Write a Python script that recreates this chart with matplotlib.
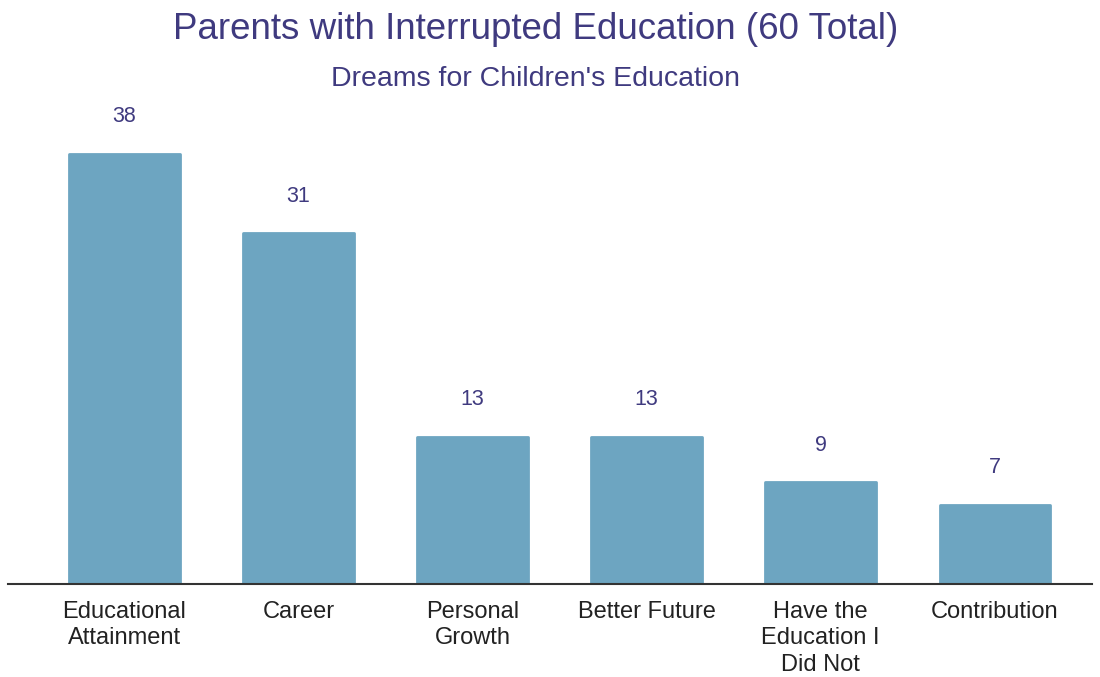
import matplotlib.pyplot as plt

plt.rcParams['font.family'] = ['Liberation Sans', 'DejaVu Sans']

# survey answers
categories = ['Educational\nAttainment', 'Career', 'Personal\nGrowth', 'Better Future',
              'Have the\nEducation I\nDid Not', 'Contribution']
counts = [38, 31, 13, 13, 9, 7]

bar_color = '#6da5c1'
title_color = '#3f3a7f'

fig = plt.figure(figsize=(11, 6.77), dpi=100)
ax = fig.add_axes([0.007, 1 - 584 / 677, 0.986, (584 - 100) / 677])

x = range(len(categories))
bars = ax.bar(x, counts, width=0.635, color=bar_color, edgecolor=bar_color,
              linewidth=2, joinstyle='round', zorder=2)

for xi, v in zip(x, counts):
    ax.annotate(str(v), (xi, v), xytext=(0, 19), textcoords='offset points',
                ha='center', va='bottom', fontsize=15.5, color=title_color)

ax.set_xlim(-0.67, 5.56)
ax.set_ylim(0, 42.76)
ax.set_xticks(list(x))
ax.set_xticklabels(categories, fontsize=17, color='#222222', linespacing=1.28, va='top')
ax.tick_params(axis='x', length=0, pad=12)
ax.set_yticks([])
for side in ['top', 'right', 'left']:
    ax.spines[side].set_visible(False)
ax.spines['bottom'].set_color('#333333')
ax.spines['bottom'].set_linewidth(1.5)
ax.spines['bottom'].set_zorder(3)

fig.text(0.487, 0.957, 'Parents with Interrupted Education (60 Total)', ha='center', va='center',
         fontsize=26.5, color=title_color)
fig.text(0.487, 0.883, "Dreams for Children's Education", ha='center', va='center',
         fontsize=20.5, color=title_color)

fig.savefig('out.png', dpi=100, facecolor='white')
